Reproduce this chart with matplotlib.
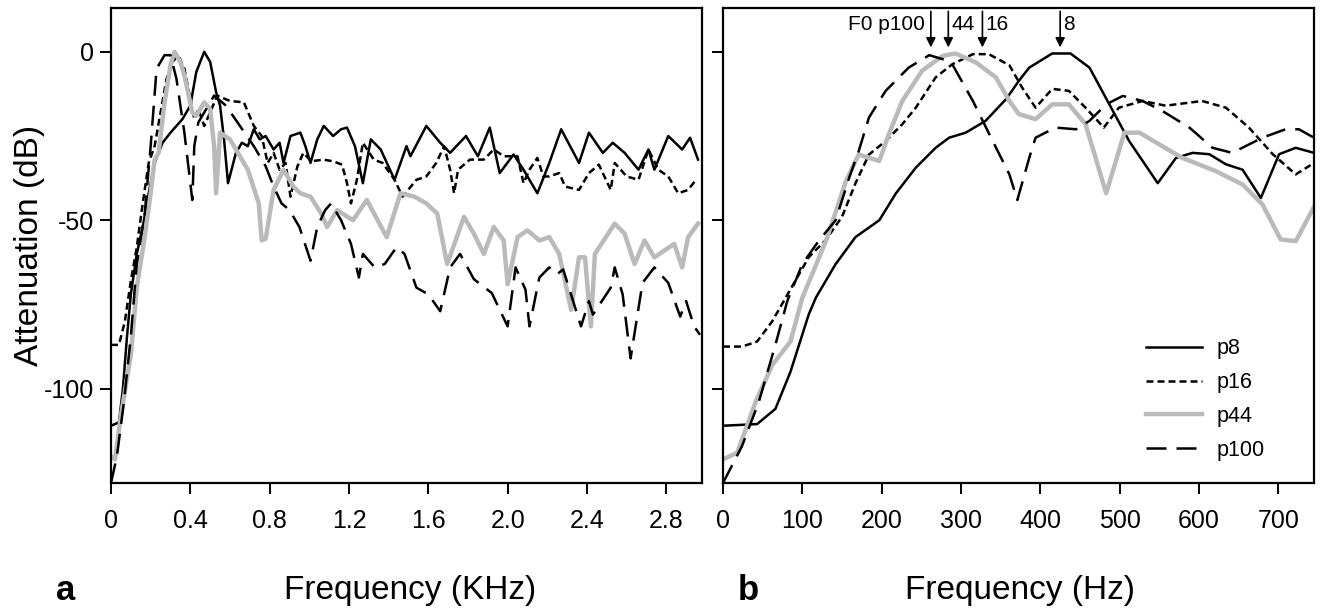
import matplotlib
matplotlib.use('Agg')
import matplotlib.pyplot as plt

plt.rcParams['font.family'] = ['Liberation Sans', 'DejaVu Sans']
plt.rcParams['axes.unicode_minus'] = False

# panel a: frequency in kHz
a_p8_x = [0.00, 0.04, 0.06, 0.08, 0.10, 0.13, 0.16, 0.19, 0.22, 0.26, 0.30, 0.33, 0.36, 0.40,
          0.43, 0.47, 0.50, 0.53, 0.55, 0.57, 0.59, 0.63, 0.66, 0.69, 0.72, 0.75, 0.78, 0.82,
          0.85, 0.87, 0.905, 0.955, 0.98, 1.006, 1.04, 1.073, 1.12, 1.16, 1.19, 1.23, 1.27,
          1.31, 1.36, 1.43, 1.49, 1.51, 1.59, 1.66, 1.71, 1.79, 1.85, 1.91, 1.96, 2.03, 2.08,
          2.15, 2.21, 2.27, 2.36, 2.41, 2.48, 2.53, 2.59, 2.66, 2.71, 2.74, 2.81, 2.88, 2.92, 2.96]
a_p8_y = [-111, -110, -100, -85, -72, -60, -52, -42, -33, -27, -24, -22, -20, -16,
          -6, 0, -3, -12, -16, -26, -39, -30, -27, -28, -23, -26, -25, -29,
          -27, -33, -25, -24, -28, -33, -26, -22, -25, -23, -22.5, -28, -39,
          -26, -29, -38, -28, -31, -22, -27, -30, -25, -31, -22.5, -36, -30.5, -35,
          -42, -33, -23, -33, -24, -30, -27, -30, -35, -29, -35, -25, -29, -25.5, -32]

a_p16_x = [0.00, 0.04, 0.07, 0.10, 0.13, 0.16, 0.19, 0.22, 0.25, 0.28, 0.31, 0.34, 0.37, 0.40,
           0.42, 0.44, 0.47, 0.50, 0.535, 0.60, 0.67, 0.72, 0.76, 0.79, 0.82, 0.85, 0.88, 0.905,
           0.94, 0.97, 1.01, 1.07, 1.12, 1.165, 1.19, 1.21, 1.24, 1.27, 1.325, 1.37, 1.43, 1.47,
           1.54, 1.59, 1.64, 1.68, 1.71, 1.73, 1.75, 1.81, 1.88, 1.93, 1.98, 2.05, 2.08, 2.11,
           2.15, 2.18, 2.21, 2.26, 2.29, 2.36, 2.41, 2.46, 2.52, 2.54, 2.60, 2.66, 2.71, 2.76,
           2.81, 2.86, 2.91, 2.95]
a_p16_y = [-87, -87, -80, -68, -58, -45, -33, -28, -18, -8, -3, -1, -5, -14,
           -20, -17, -22, -18, -13, -14.6, -15, -22, -25, -33, -30, -35, -33, -43,
           -34, -30, -32.5, -32, -32.5, -33.5, -39, -45, -38, -27, -32, -33, -38, -43,
           -38, -37, -33, -28, -35, -42, -35, -32, -32, -29, -31, -31, -39, -35,
           -31.5, -37, -37, -36, -40, -41, -36, -33.5, -41, -33, -37, -38, -29, -35,
           -37, -42, -41, -38]

a_p44_x = [0.00, 0.02, 0.05, 0.10, 0.13, 0.17, 0.20, 0.22, 0.24, 0.27, 0.30, 0.32, 0.35, 0.37,
           0.41, 0.43, 0.47, 0.50, 0.52, 0.53, 0.55, 0.60, 0.65, 0.69, 0.745, 0.76, 0.78, 0.82,
           0.87, 0.92, 0.955, 1.006, 1.06, 1.09, 1.14, 1.22, 1.29, 1.39, 1.46, 1.53, 1.59, 1.645,
           1.695, 1.78, 1.83, 1.88, 1.93, 1.98, 2.00, 2.05, 2.10, 2.16, 2.21, 2.26, 2.32, 2.36,
           2.39, 2.42, 2.44, 2.54, 2.59, 2.64, 2.69, 2.74, 2.79, 2.84, 2.88, 2.91, 2.96]
a_p44_y = [-120, -121, -108, -90, -70, -55, -42, -32, -30, -15, -4, 0, -3, -7,
           -18, -19, -15, -17, -28, -42, -24, -26, -31, -35, -45, -56, -55.5, -41,
           -35, -40, -42, -43, -48, -52, -47, -50, -44, -55, -42, -43, -45, -48,
           -63, -49, -54, -60, -52, -56, -69, -55, -53, -56, -55, -60, -76.6, -61,
           -61, -81.5, -60, -51, -54, -63, -56, -61, -59, -57, -64, -55, -51]

a_p100_x = [0.00, 0.03, 0.065, 0.10, 0.13, 0.17, 0.20, 0.23, 0.27, 0.30, 0.33, 0.37, 0.41, 0.42,
            0.44, 0.48, 0.52, 0.58, 0.65, 0.72, 0.78, 0.82, 0.86, 0.90, 0.95, 1.006, 1.04, 1.08,
            1.11, 1.16, 1.21, 1.25, 1.27, 1.33, 1.38, 1.44, 1.48, 1.54, 1.60, 1.66, 1.71, 1.76,
            1.83, 1.92, 2.00, 2.04, 2.09, 2.11, 2.16, 2.21, 2.25, 2.28, 2.37, 2.41, 2.43, 2.52,
            2.54, 2.58, 2.62, 2.68, 2.74, 2.81, 2.87, 2.90, 2.94, 2.97]
a_p100_y = [-128, -120, -104, -84.5, -63, -48, -28, -5, -1, -1, -8, -24, -44, -28,
            -21, -17, -13, -16, -22, -28, -34, -40, -45, -47, -52, -62, -52, -47,
            -45, -50, -57, -67, -60, -64, -63, -58, -60, -70, -72, -77, -64, -60,
            -67.5, -71.6, -81.5, -64, -70.6, -81.5, -67, -64, -66, -64.6, -81.5, -74, -78, -70,
            -64, -72, -91, -68.6, -64, -68.6, -78.6, -74, -81.5, -84]

# panel b: frequency in Hz
b_p8_x = [0, 43, 66, 85, 108, 117, 142, 167, 197, 218, 243, 268, 285, 306, 331, 357, 373, 386,
          415, 438, 462, 487, 512, 548, 571, 592, 613, 634, 655, 678, 701, 722, 745]
b_p8_y = [-111, -110.5, -106, -95, -78, -73, -63, -55, -50, -42, -34.4, -28.5, -25.5, -24, -20.5,
          -14, -8.6, -4.7, -0.5, -0.5, -4.7, -15.6, -26.5, -39, -31.5, -30, -30.4, -33.4, -35,
          -43.4, -30.4, -28.5, -30]

b_p16_x = [0, 24, 43, 62, 79, 108, 129, 150, 167, 184, 205, 226, 243, 268, 289, 315, 335, 361,
           377, 394, 415, 436, 457, 480, 499, 529, 558, 604, 634, 663, 693, 722, 745]
b_p16_y = [-87.5, -87.5, -86, -80, -73, -61, -56, -49, -39, -30.5, -26.5, -21.5, -16.6, -7.6,
           -3.7, -0.7, -0.7, -4, -10.6, -16.6, -11, -11.6, -16.6, -22.5, -16.6, -14.6, -16,
           -14.6, -16.6, -22.5, -30.4, -36.4, -33]

b_p44_x = [0, 18, 41, 62, 85, 100, 130, 155, 171, 197, 209, 226, 251, 277, 293, 319, 344, 361,
           373, 394, 415, 436, 457, 483, 506, 525, 550, 579, 621, 655, 680, 703, 722, 745]
b_p44_y = [-121, -119, -104, -93, -86, -73, -56, -38.4, -30.5, -32.4, -24.5, -14.6, -5.6, -1.2,
           -0.5, -3.2, -7.6, -14.6, -18.5, -20, -15.6, -15.6, -21.5, -42, -24, -24, -27.5, -31.5,
           -35.4, -39.4, -45.3, -55.7, -56.2, -46]

b_p100_x = [0, 24, 45, 66, 81, 100, 121, 142, 159, 171, 184, 205, 234, 260, 277, 289, 315, 340,
            361, 371, 386, 394, 419, 445, 462, 483, 504, 529, 554, 588, 617, 642, 663, 680, 709,
            726, 745]
b_p100_y = [-128, -117, -104, -87, -74, -63, -56, -50, -37.4, -29.5, -19.5, -11.6, -4.7, -1, -2.2,
            -3.7, -14.6, -26.5, -36.4, -44, -31.5, -25.5, -22.5, -23, -20.5, -15.6, -13.1, -14.6,
            -17.6, -22.5, -28.5, -30, -27.5, -25.5, -23, -23, -25.5]

labels = ['p8', 'p16', 'p44', 'p100']
a_ticks = [0, 0.4, 0.8, 1.2, 1.6, 2.0, 2.4, 2.8]
a_ticklabels = ['0', '0.4', '0.8', '1.2', '1.6', '2.0', '2.4', '2.8']
b_ticks = [0, 100, 200, 300, 400, 500, 600, 700]
y_ticks = [0, -50, -100]

# peak markers in panel b
peak_x = [262, 284, 327, 425]
peak_txt = ['F0 p100', '44', '16', '8']

gray = '#bababa'
styles = [dict(color='black', lw=1.8, ls='-'),
          dict(color='black', lw=1.8, ls=(0, (2.8, 1.6))),
          dict(color=gray, lw=3.2, ls='-'),
          dict(color='black', lw=1.8, ls=(0, (8, 4)))]

fig = plt.figure(figsize=(13.23, 6.15), dpi=100)
ax1 = fig.add_axes([0.0839, 0.2146, 0.4467, 0.7724])
ax2 = fig.add_axes([0.5465, 0.2146, 0.4467, 0.7724])

a_data = [(a_p8_x, a_p8_y), (a_p16_x, a_p16_y), (a_p44_x, a_p44_y), (a_p100_x, a_p100_y)]
b_data = [(b_p8_x, b_p8_y), (b_p16_x, b_p16_y), (b_p44_x, b_p44_y), (b_p100_x, b_p100_y)]

for (x, y), st, lab in zip(a_data, styles, labels):
    ax1.plot(x, y, label=lab, **st)
for (x, y), st, lab in zip(b_data, styles, labels):
    ax2.plot(x, y, label=lab, **st)

for ax in (ax1, ax2):
    ax.set_ylim(-128, 13)
    ax.set_yticks(y_ticks)
    for sp in ax.spines.values():
        sp.set_linewidth(1.6)
    ax.tick_params(direction='out', length=8, width=1.4, labelsize=18)
    ax.tick_params(axis='x', pad=11)

ax1.set_xlim(0, 2.98)
ax1.set_xticks(a_ticks)
ax1.set_xticklabels(a_ticklabels)
ax1.set_yticklabels(['0', '-50', '-100'])
ax1.tick_params(axis='y', pad=4)

ax2.set_xlim(0, 745)
ax2.set_xticks(b_ticks)
ax2.set_yticklabels([])

# arrows and peak labels
for px, t in zip(peak_x, peak_txt):
    ax2.annotate('', xy=(px, 1.3), xytext=(px, 12),
                 arrowprops=dict(arrowstyle='-|>', color='black', lw=1.2,
                                 mutation_scale=14, shrinkA=0, shrinkB=0))
    if t.startswith('F0'):
        ax2.text(px - 8, 8, t, ha='right', va='center', fontsize=15)
    else:
        ax2.text(px + 4, 8, t, ha='left', va='center', fontsize=15)

ax2.legend(loc='upper left', bbox_to_anchor=(0.715, 0.305), frameon=False, fontsize=15.5,
           handlelength=2.6, handletextpad=0.7, labelspacing=0.6, borderpad=0,
           borderaxespad=0)

fig.text(30 / 1323, 1 - 245 / 615, 'Attenuation (dB)', rotation=90, ha='center', va='center',
         fontsize=24)
fig.text(410 / 1323, 1 - 590 / 615, 'Frequency (KHz)', ha='center', va='center', fontsize=24)
fig.text(1020 / 1323, 1 - 590 / 615, 'Frequency (Hz)', ha='center', va='center', fontsize=24)
fig.text(66 / 1323, 1 - 590 / 615, 'a', ha='center', va='center', fontsize=25, fontweight='bold')
fig.text(748 / 1323, 1 - 590 / 615, 'b', ha='center', va='center', fontsize=25, fontweight='bold')

fig.savefig('out.png', dpi=100)
